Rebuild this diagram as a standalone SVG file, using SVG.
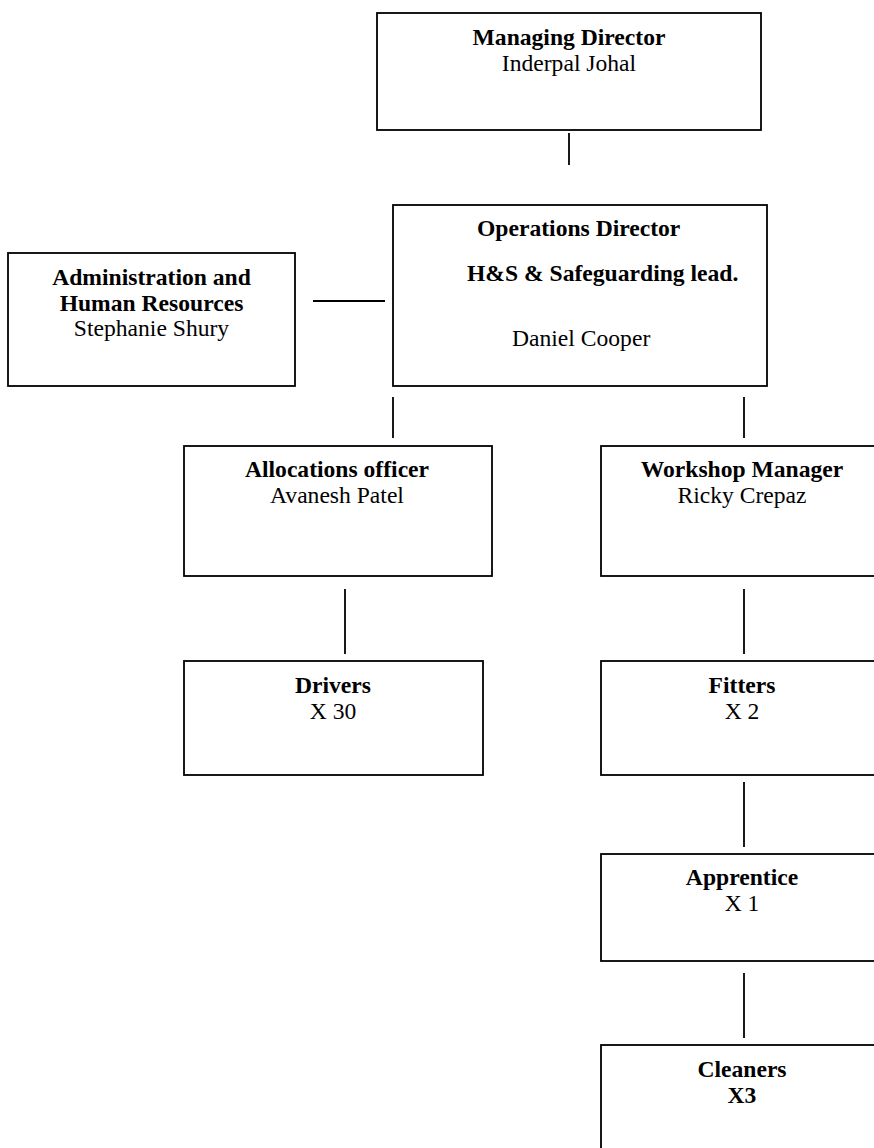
<svg xmlns="http://www.w3.org/2000/svg" width="874" height="1148" viewBox="0 0 874 1148">
<style>
.box{fill:#fff;stroke:#000;stroke-width:1.8}
.ln{stroke:#000;stroke-width:1.8;fill:none}
text{font-family:"Liberation Serif","Times New Roman",serif;font-size:23.6px;fill:#000}
.b{font-weight:bold}
.c{text-anchor:middle}
</style>
<rect width="874" height="1148" fill="#fff"/>
<g id="connectors">
<line class="ln" x1="569" y1="133" x2="569" y2="165"/>
<line class="ln" x1="313" y1="301" x2="385" y2="301"/>
<line class="ln" x1="393" y1="397" x2="393" y2="438"/>
<line class="ln" x1="744" y1="397" x2="744" y2="438"/>
<line class="ln" x1="345" y1="589" x2="345" y2="654"/>
<line class="ln" x1="744" y1="589" x2="744" y2="654"/>
<line class="ln" x1="744" y1="782" x2="744" y2="847"/>
<line class="ln" x1="744" y1="973" x2="744" y2="1038"/>
</g>
<g id="managing-director">
<rect class="box" x="377" y="13" width="384" height="117"/>
<text class="b c" x="569" y="45">Managing Director</text>
<text class="c" x="569" y="71">Inderpal Johal</text>
</g>
<g id="operations-director">
<rect class="box" x="393" y="205" width="374" height="181"/>
<text class="b" x="477" y="236">Operations Director</text>
<text class="b" x="467" y="281">H&amp;S &amp; Safeguarding lead.</text>
<text x="512" y="346">Daniel Cooper</text>
</g>
<g id="administration">
<rect class="box" x="8" y="253" width="287" height="133"/>
<text class="b c" x="151.5" y="285">Administration and</text>
<text class="b c" x="151.5" y="311">Human Resources</text>
<text class="c" x="151.5" y="336">Stephanie Shury</text>
</g>
<g id="allocations-officer">
<rect class="box" x="184" y="446" width="308" height="130"/>
<text class="b c" x="337" y="477">Allocations officer</text>
<text class="c" x="337" y="503">Avanesh Patel</text>
</g>
<g id="workshop-manager">
<rect class="box" x="601" y="446" width="283" height="130"/>
<text class="b c" x="742" y="477">Workshop Manager</text>
<text class="c" x="742" y="503">Ricky Crepaz</text>
</g>
<g id="drivers">
<rect class="box" x="184" y="661" width="299" height="114"/>
<text class="b c" x="333" y="693">Drivers</text>
<text class="c" x="333" y="719">X 30</text>
</g>
<g id="fitters">
<rect class="box" x="601" y="661" width="283" height="114"/>
<text class="b c" x="742" y="693">Fitters</text>
<text class="c" x="742" y="719">X 2</text>
</g>
<g id="apprentice">
<rect class="box" x="601" y="854" width="283" height="107"/>
<text class="b c" x="742" y="885">Apprentice</text>
<text class="c" x="742" y="911">X 1</text>
</g>
<g id="cleaners">
<rect class="box" x="601" y="1045" width="283" height="120"/>
<text class="b c" x="742" y="1077">Cleaners</text>
<text class="b c" x="742" y="1103">X3</text>
</g>
</svg>
